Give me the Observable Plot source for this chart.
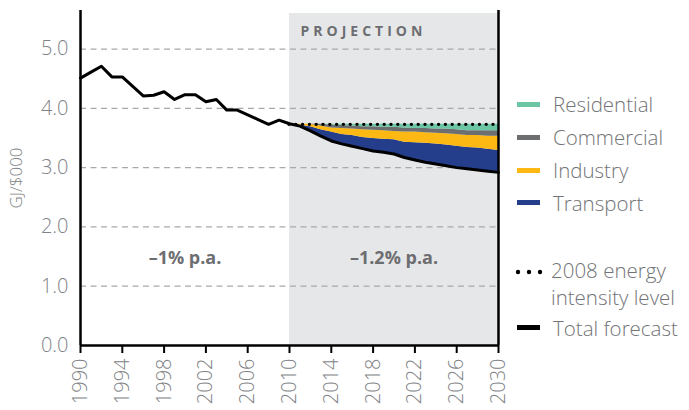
<!DOCTYPE html>
<html><head><meta charset="utf-8">
<script src="https://cdn.jsdelivr.net/npm/d3@7"></script>
<script src="https://cdn.jsdelivr.net/npm/@observablehq/plot@0.6"></script>
<style>
body{margin:0;background:#fff;}
#wrap{position:relative;width:689px;height:410px;overflow:hidden;font-family:"Open Sans",Roboto,"Liberation Sans",sans-serif;font-weight:300;}
#wrap svg{position:absolute;left:0;top:0;}
.lg{position:absolute;left:517px;display:flex;align-items:center;font-size:20.5px;line-height:24px;color:#727376;white-space:nowrap;}
.sw{width:23px;height:5px;margin-right:13px;flex:none;}
</style></head>
<body><div id="wrap"></div>
<script>
// ---- data ----
const totalYears = [1990,1991,1992,1993,1994,1995,1996,1997,1998,1999,2000,2001,2002,2003,2004,2005,2006,2007,2008,2009,2010,
  2011,2012,2013,2014,2015,2016,2017,2018,2019,2020,2021,2022,2023,2024,2025,2026,2027,2028,2029,2030];
const totalValues = [4.51,4.61,4.71,4.53,4.53,4.37,4.21,4.22,4.28,4.15,4.23,4.23,4.11,4.15,3.97,3.97,3.89,3.81,3.73,3.80,3.74,
  3.70,3.62,3.53,3.45,3.40,3.36,3.32,3.28,3.26,3.23,3.17,3.13,3.09,3.06,3.03,3.00,2.98,2.96,2.94,2.92];
const projYears = [2010,2011,2012,2013,2014,2015,2016,2017,2018,2019,2020,2021,2022,2023,2024,2025,2026,2027,2028,2029,2030];
const sectors = ["Transport","Industry","Commercial","Residential"];
const sectorColors = ["#243e8c","#fdb813","#6d6e70","#6cc6a4"];
const transport   = [0,0.02,0.07,0.11,0.15,0.16,0.18,0.19,0.21,0.22,0.24,0.26,0.29,0.32,0.34,0.35,0.36,0.36,0.37,0.37,0.37];
const industry    = [0,0.01,0.04,0.06,0.07,0.10,0.11,0.13,0.14,0.14,0.14,0.17,0.18,0.18,0.18,0.19,0.20,0.20,0.21,0.22,0.24];
const commercial  = [0,0,0,0.03,0.05,0.05,0.05,0.05,0.06,0.06,0.07,0.07,0.06,0.07,0.07,0.08,0.08,0.08,0.08,0.09,0.09];
const residential = [0,0,0,0,0.01,0.02,0.03,0.04,0.04,0.05,0.05,0.06,0.07,0.07,0.08,0.08,0.09,0.11,0.11,0.11,0.11];
const level2008 = 3.73;
const projection = [{start: 2010, end: 2030}];
const xTicks = [1990,1994,1998,2002,2006,2010,2014,2018,2022,2026,2030];
const yTicks = [0,1,2,3,4,5];
const gridTicks = [1,2,3,4,5];
const rateLabels = [{year: 2000, value: 1.47, label: "–1% p.a."},{year: 2020, value: 1.47, label: "–1.2% p.a."}];
const yLabel = "GJ/$000";
const legendItems = [
  {label:"Residential", color:"#6cc6a4", top:92},
  {label:"Commercial", color:"#6d6e70", top:125},
  {label:"Industry", color:"#fdb813", top:158},
  {label:"Transport", color:"#243e8c", top:190.5}
];

// ---- tables ----
const totalRows = totalYears.map((y,i)=>({year:y, value:totalValues[i]}));
const sectorVals = {Transport:transport, Industry:industry, Commercial:commercial, Residential:residential};
const stacked = [];
projYears.forEach((yr,i)=>{
  let base = totalValues[totalYears.indexOf(yr)];
  for (const s of sectors){
    const v = sectorVals[s][i];
    stacked.push({year:yr, sector:s, y1:base, y2:base+v});
    base += v;
  }
});

const gray = "#808285";
const plot = Plot.plot({
  width: 689, height: 410,
  marginLeft: 80, marginRight: 191, marginTop: 10, marginBottom: 65,
  style: {fontFamily: "'Open Sans', Roboto, 'Liberation Sans', sans-serif", fontWeight: 300, background: "transparent", overflow: "visible"},
  x: {domain: [1990, 2030]},
  y: {domain: [0, 5.65]},
  color: {domain: sectors, range: sectorColors},
  marks: [
    Plot.rect(projection, {x1: "start", x2: "end", y1: 0, y2: 5.6, fill: "#e6e7e8"}),
    Plot.gridY(gridTicks, {stroke: "#a7a9ac", strokeOpacity: 1, strokeDasharray: "6,4.5", strokeWidth: 1.3}),
    Plot.areaY(stacked, {x: "year", y1: "y1", y2: "y2", fill: "sector"}),
    Plot.ruleY([level2008], {x1: projection[0].start, x2: projection[0].end, stroke: "black", strokeWidth: 3.4, strokeDasharray: "0,6.8", strokeLinecap: "round"}),
    Plot.line(totalRows, {x: "year", y: "value", stroke: "black", strokeWidth: 3}),
    Plot.ruleX([1990, 2030], {y1: 0, y2: 5.65, stroke: "black", strokeWidth: 2.5}),
    Plot.ruleY([0], {stroke: "black", strokeWidth: 2.5}),
    Plot.axisX({ticks: xTicks, tickFormat: d => String(d), tickRotate: -90, tickSize: 8, tickPadding: 5, stroke: "black", strokeWidth: 2, fill: gray, fontSize: 20, label: null}),
    Plot.axisY({ticks: yTicks, tickFormat: d3.format(".1f"), tickSize: 0, tickPadding: 12, fill: gray, fontSize: 20, label: null}),
    Plot.text(rateLabels, {x: "year", y: "value", text: "label", fontWeight: "bold", fontSize: 18, fill: "#6d6e71"}),
    Plot.text(["PROJECTION"], {x: projection[0].start, y: 5.29, dx: 11, textAnchor: "start", fontWeight: "bold", fontSize: 14, fill: "#6d6e71"}),
    Plot.text([yLabel], {frameAnchor: "left", textAnchor: "middle", dx: -64, rotate: -90, fontSize: 17, fill: gray})
  ]
});
d3.select(plot).selectAll("text").filter(function(){return this.textContent === "PROJECTION";}).attr("letter-spacing", "4px");
const wrap = document.getElementById("wrap");
wrap.appendChild(plot);

// ---- legend ----
for (const it of legendItems){
  const d = document.createElement("div");
  d.className = "lg"; d.style.top = it.top + "px";
  d.innerHTML = `<span class="sw" style="background:${it.color}"></span><span>${it.label}</span>`;
  wrap.appendChild(d);
}
const dl = document.createElement("div");
dl.className = "lg"; dl.style.top = "257px"; dl.style.alignItems = "flex-start"; dl.style.lineHeight = "26.7px";
dl.innerHTML = `<svg width="29" height="26" style="position:static;margin-right:7px;margin-left:-2px;flex:none"><g fill="#000"><circle cx="3" cy="15" r="2.2"/><circle cx="14" cy="15" r="2.2"/><circle cx="25" cy="15" r="2.2"/></g></svg><span>2008 energy<br>intensity level</span>`;
wrap.appendChild(dl);
const tl = document.createElement("div");
tl.className = "lg"; tl.style.top = "315.5px";
tl.innerHTML = `<span class="sw" style="background:#000"></span><span>Total forecast</span>`;
wrap.appendChild(tl);
</script>
</body></html>
